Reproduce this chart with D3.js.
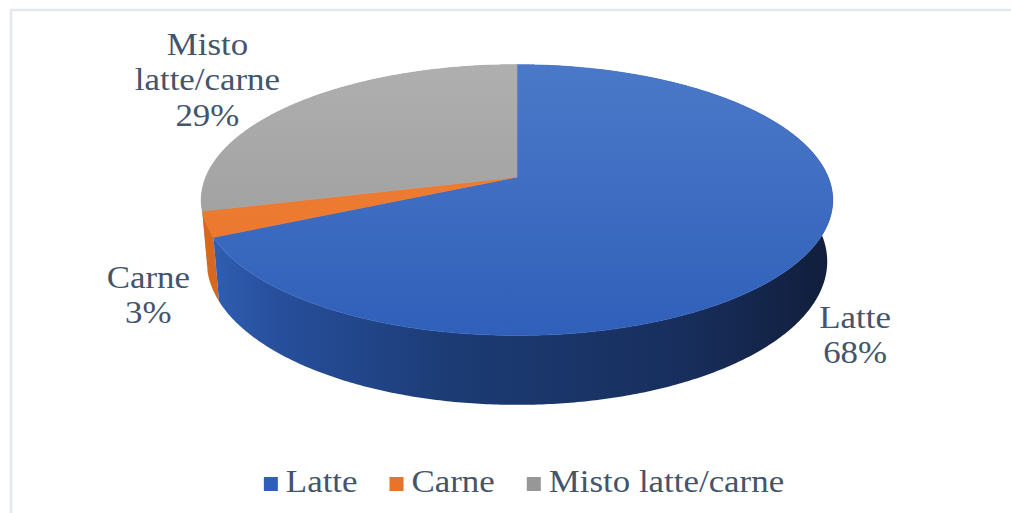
<!DOCTYPE html>
<html>
<head>
<meta charset="utf-8">
<script src="https://cdn.jsdelivr.net/npm/d3@7/dist/d3.min.js"></script>
<style>
  html, body { margin: 0; padding: 0; background: #ffffff; }
  svg { display: block; }
</style>
</head>
<body>
<svg id="chart" width="1011" height="513"></svg>
<script>
// ---- data ----
const categories = ["Latte", "Carne", "Misto latte/carne"];
const values = [68, 3, 29];
const pctLabels = ["68%", "3%", "29%"];
const labelLines = [["Latte"], ["Carne"], ["Misto", "latte/carne"]];

// ---- style ----
const FONT = "'Liberation Serif'";
const TXT = "#44546a";
const SX = 1.09; // horizontal stretch of the original picture's text
const topColors = [["#4b79c9", "#2f5fb9"], ["#f08238", "#e8742a"], ["#afafaf", "#979797"]];
const sideColors = [
  [["0%", "#3261b6"], ["12%", "#274f9c"], ["40%", "#1c3b74"], ["75%", "#182f5e"], ["100%", "#111d3a"]],
  [["0%", "#d9681f"], ["100%", "#a84a10"]],
  [["0%", "#8a8a8a"], ["100%", "#5f5f5f"]]
];

const W = 1011, H = 513;
const svg = d3.select("#chart");

// frame
svg.append("rect").attr("x", 11).attr("y", 10).attr("width", W + 10).attr("height", H + 10)
  .attr("fill", "none").attr("stroke", "#e4e7ee").attr("stroke-width", 2.5);

// ---- 3D perspective projection of a disk ----
const cx = 517, cy = 177;          // projected centre of top face
const alpha = 25 * Math.PI / 180;  // tilt
const R = 0.188, depth = 0.041, F = 1655;
function proj(theta, y, s = 1) {
  const X = R * s * Math.sin(theta), Z = -R * s * Math.cos(theta), Y = y;
  const v = Z * Math.sin(alpha) - Y * Math.cos(alpha);
  const w = 1 - Z * Math.cos(alpha) - Y * Math.sin(alpha);
  return [cx + F * X / w, cy + F * v / w];
}

const pie = d3.pie().sort(null).value(d => d);
const arcs = pie(values);

const defs = svg.append("defs");
arcs.forEach((a, i) => {
  const g = defs.append("linearGradient").attr("id", "top" + i)
    .attr("gradientUnits", "userSpaceOnUse").attr("x1", 0).attr("x2", 0).attr("y1", 65).attr("y2", 340);
  g.append("stop").attr("offset", "0%").attr("stop-color", topColors[i][0]);
  g.append("stop").attr("offset", "100%").attr("stop-color", topColors[i][1]);
  const s = defs.append("linearGradient").attr("id", "side" + i)
    .attr("gradientUnits", "userSpaceOnUse").attr("x1", 200).attr("x2", 835).attr("y1", 0).attr("y2", 0);
  sideColors[i].forEach(st => s.append("stop").attr("offset", st[0]).attr("stop-color", st[1]));
});

const line = d3.line().curve(d3.curveLinear);
function arcPts(a0, a1, y) {
  const n = Math.max(4, Math.ceil(Math.abs(a1 - a0) / 0.01));
  return d3.range(n + 1).map(k => proj(a0 + (a1 - a0) * k / n, y));
}

// side walls (back to front)
const walls = svg.append("g");
const order = arcs.map((a, i) => i);
order.sort((p, q) => Math.cos((arcs[q].startAngle + arcs[q].endAngle) / 2) - Math.cos((arcs[p].startAngle + arcs[p].endAngle) / 2));
order.forEach(i => {
  const a = arcs[i];
  const pts = arcPts(a.startAngle, a.endAngle, 0).concat(arcPts(a.endAngle, a.startAngle, -depth));
  walls.append("path").attr("d", line(pts) + "Z").attr("fill", `url(#side${i})`);
});

// top faces
const tops = svg.append("g");
arcs.forEach((a, i) => {
  const pts = [proj(0, 0, 0)].concat(arcPts(a.startAngle, a.endAngle, 0));
  tops.append("path").attr("d", line(pts) + "Z").attr("fill", `url(#top${i})`)
    .attr("stroke", `url(#top${i})`).attr("stroke-width", 0.6);
});

// ---- data labels ----
const labelOffsets = [[49, 81], [-58, 71], [-87, -24]];
const fs = 32, lh = 35.5;
arcs.forEach((a, i) => {
  const mid = (a.startAngle + a.endAngle) / 2;
  const p = proj(mid, 0);
  const lx = p[0] + labelOffsets[i][0], ly = p[1] + labelOffsets[i][1];
  const lines = labelLines[i].concat([pctLabels[i]]);
  const first = ly - (lines.length - 1) * lh / 2 + 10;
  const t = svg.append("text").attr("text-anchor", "middle").attr("font-size", fs)
    .attr("font-family", FONT).attr("fill", TXT)
    .attr("transform", `translate(${lx},0) scale(${SX},1)`);
  lines.forEach((s, k) => t.append("tspan").attr("x", 0).attr("y", first + k * lh).text(s));
});

// ---- legend ----
const lg = svg.append("g");
const lfs = 32, sq = 14, gapSq = 8, gapItem = 32;
let x = 0;
categories.forEach((c, i) => {
  const g = lg.append("g");
  g.append("rect").attr("x", x).attr("y", -15).attr("width", sq).attr("height", sq).attr("fill", topColors[i][1]);
  const t = g.append("text").attr("x", 0).attr("y", 0).attr("font-size", lfs)
    .attr("font-family", FONT).attr("fill", TXT).text(c)
    .attr("transform", `translate(${x + sq + gapSq},0) scale(${SX},1)`);
  x += sq + gapSq + t.node().getComputedTextLength() * SX + gapItem;
});
const totalW = x - gapItem;
lg.attr("transform", `translate(${524 - totalW / 2},492)`);
</script>
</body>
</html>
